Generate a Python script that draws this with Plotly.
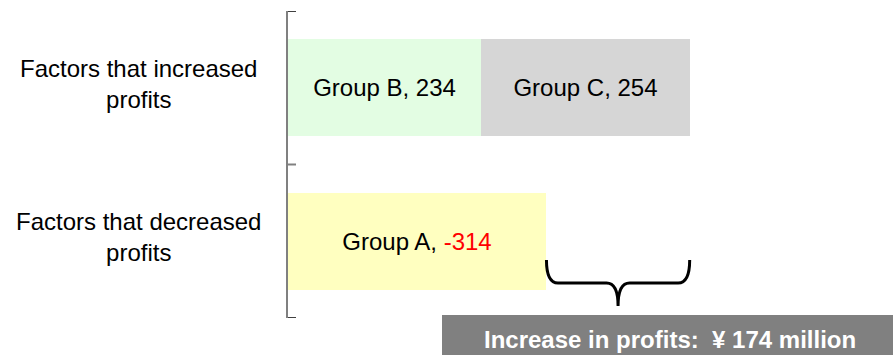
import plotly.graph_objects as go

# Profit-change factors, grouped by the direction of their effect
categories = ["Factors that decreased profits", "Factors that increased profits"]
category_lines = [["Factors that decreased", "profits"],
                  ["Factors that increased", "profits"]]
groups = ["Group A", "Group B", "Group C"]
group_values = [-314, 234, 254]          # ¥ million
group_category = [0, 1, 1]               # index into categories
group_colors = ["#ffffc0", "#e3fde3", "#d6d6d6"]

net_change = sum(group_values)

FONT = "Liberation Sans, Arial, sans-serif"
W, H = 893, 355
M_L, M_R, M_T, M_B = 288, 0, 11, 37
X_MAX = 735
BAR_WIDTH = 0.632
TICK_LEN = 8

fig = go.Figure()

for name, val, cat, col in zip(groups, group_values, group_category, group_colors):
    if val < 0:
        label = f"{name}, <span style='color:#ff0000'>{val}</span>"
    else:
        label = f"{name}, {val}"
    fig.add_trace(go.Bar(
        x=[abs(val)], y=[cat], orientation="h", width=BAR_WIDTH,
        name=name, marker=dict(color=col, line=dict(width=0)),
        text=[label], textposition="inside", insidetextanchor="middle",
        textangle=0, textfont=dict(family=FONT, size=24, color="#000000"),
        hoverinfo="skip", showlegend=False,
    ))

plot_w = W - M_L - M_R
plot_h = H - M_T - M_B

# category boundary ticks on the vertical axis
n_cat = len(categories)
for b in range(n_cat + 1):
    yb = b - 0.5
    edge = b in (0, n_cat)
    fig.add_shape(type="line", xref="paper", yref="y",
                  x0=0, x1=TICK_LEN / plot_w, y0=yb, y1=yb,
                  line=dict(color="#404040" if edge else "#808080", width=2),
                  layer="above")

# category labels, centred two-line text left of the axis
label_x = (138 - M_L) / plot_w
for i, lines in enumerate(category_lines):
    fig.add_annotation(
        x=label_x, xref="paper", y=i, yref="y", yshift=4,
        text="<br>".join(lines), showarrow=False, align="center",
        xanchor="center", yanchor="middle",
        font=dict(family=FONT, size=24, color="#000000"),
    )

# brace spanning the gap between the losses and the gains
decrease_total = sum(abs(v) for v in group_values if v < 0)
increase_total = sum(v for v in group_values if v > 0)
bx0, bx1 = decrease_total, increase_total
bxm = (bx0 + bx1) / 2
rx = 14
y_top, y_mid, y_tip = -0.122, -0.272, -0.422
brace = (f"M {bx0},{y_top} Q {bx0},{y_mid} {bx0 + rx},{y_mid} "
         f"L {bxm - rx},{y_mid} Q {bxm},{y_mid} {bxm},{y_tip} "
         f"Q {bxm},{y_mid} {bxm + rx},{y_mid} "
         f"L {bx1 - rx},{y_mid} Q {bx1},{y_mid} {bx1},{y_top}")
fig.add_shape(type="path", path=brace, xref="x", yref="y",
              line=dict(color="#000000", width=3), fillcolor="rgba(0,0,0,0)")

# summary banner
fig.add_shape(type="rect", xref="paper", yref="paper",
              x0=(442 - M_L) / plot_w, x1=1.05,
              y0=(H - M_B - 315) / plot_h, y1=-0.2,
              fillcolor="#808080", line=dict(width=0), layer="above")
fig.add_annotation(
    x=(670 - M_L) / plot_w, xref="paper",
    y=(H - M_B - 339) / plot_h, yref="paper",
    text=f"<b>Increase in profits:\u00a0\u00a0¥ {net_change} million</b>",
    showarrow=False, xanchor="center", yanchor="middle",
    font=dict(family=FONT, size=24, color="#ffffff"),
)

fig.update_layout(
    width=W, height=H,
    margin=dict(l=M_L, r=M_R, t=M_T, b=M_B),
    paper_bgcolor="#ffffff", plot_bgcolor="#ffffff",
    barmode="stack", bargap=0,
    xaxis=dict(range=[0, X_MAX], visible=False, fixedrange=True),
    yaxis=dict(range=[-0.5, n_cat - 0.5], showticklabels=False, ticks="",
               showline=True, linecolor="#808080", linewidth=2,
               showgrid=False, zeroline=False, fixedrange=True),
    font=dict(family=FONT),
)

fig.write_html("out.html")
